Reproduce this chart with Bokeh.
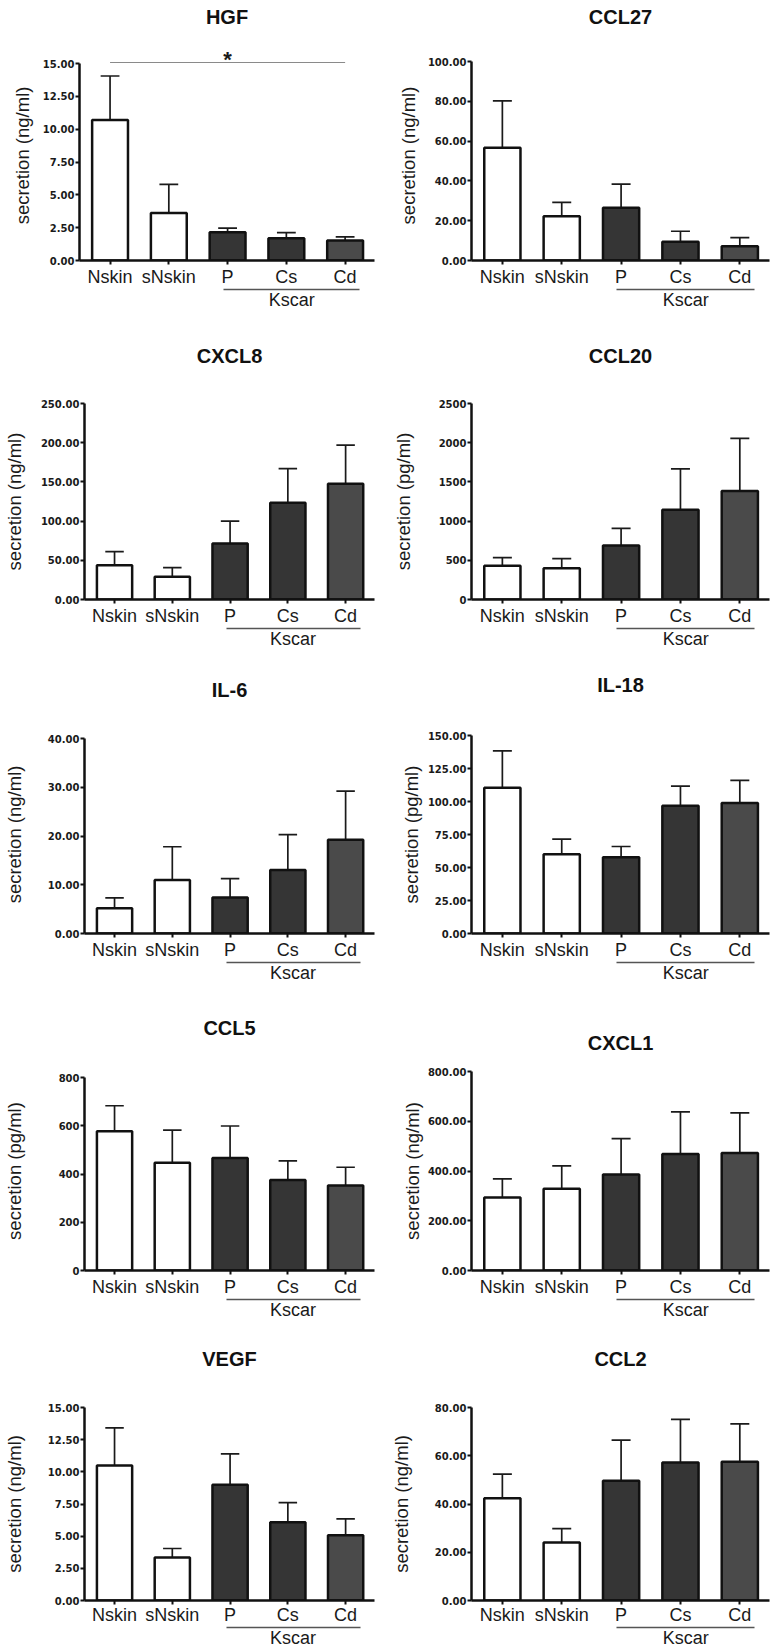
import json
from bokeh.plotting import figure
from bokeh.layouts import column, row
from bokeh.models import FixedTicker, PrintfTickFormatter, LinearAxis, CustomJSTickFormatter
from bokeh.core.properties import value
from bokeh.embed import file_html
from bokeh.resources import INLINE

# ---------------- data ----------------
categories = ["Nskin", "sNskin", "P", "Cs", "Cd"]
group_label = "Kscar"
group_members = ["P", "Cs", "Cd"]
bar_colors = ["#ffffff", "#ffffff", "#353535", "#353535", "#4a4a4a"]

panel_titles = ["HGF", "CCL27", "CXCL8", "CCL20", "IL-6", "IL-18", "CCL5", "CXCL1", "VEGF", "CCL2"]
panel_units = ["ng/ml", "ng/ml", "ng/ml", "pg/ml", "ng/ml", "pg/ml", "pg/ml", "ng/ml", "ng/ml", "ng/ml"]

hgf_mean = [10.70, 3.62, 2.15, 1.70, 1.52]
hgf_err = [3.35, 2.18, 0.31, 0.42, 0.28]
ccl27_mean = [56.6, 22.2, 26.5, 9.4, 7.2]
ccl27_err = [23.6, 7.0, 11.9, 5.3, 4.3]
cxcl8_mean = [43.8, 29.0, 71.4, 123.5, 147.7]
cxcl8_err = [17.2, 11.7, 28.6, 43.5, 49.3]
ccl20_mean = [430, 400, 688, 1146, 1383]
ccl20_err = [105, 122, 220, 520, 673]
il6_mean = [5.2, 11.0, 7.4, 13.05, 19.25]
il6_err = [2.1, 6.8, 3.85, 7.25, 9.95]
il18_mean = [110.5, 60.1, 57.8, 96.7, 98.8]
il18_err = [27.9, 11.4, 8.1, 15.0, 17.2]
ccl5_mean = [577, 447, 466, 375, 352]
ccl5_err = [106, 135, 133, 79, 76]
cxcl1_mean = [293, 329, 386, 468, 472]
cxcl1_err = [75, 92, 144, 170, 162]
vegf_mean = [10.50, 3.34, 9.00, 6.09, 5.07]
vegf_err = [2.92, 0.70, 2.40, 1.51, 1.28]
ccl2_mean = [42.4, 24.0, 49.6, 57.2, 57.5]
ccl2_err = [10.0, 5.8, 16.9, 17.9, 15.7]

hgf_ticks = [0, 2.5, 5, 7.5, 10, 12.5, 15]
ccl27_ticks = [0, 20, 40, 60, 80, 100]
cxcl8_ticks = [0, 50, 100, 150, 200, 250]
ccl20_ticks = [0, 500, 1000, 1500, 2000, 2500]
il6_ticks = [0, 10, 20, 30, 40]
il18_ticks = [0, 25, 50, 75, 100, 125, 150]
ccl5_ticks = [0, 200, 400, 600, 800]
cxcl1_ticks = [0, 200, 400, 600, 800]
vegf_ticks = [0, 2.5, 5, 7.5, 10, 12.5, 15]
ccl2_ticks = [0, 20, 40, 60, 80]

y_formats = ["%.2f", "%.2f", "%.2f", "%d", "%.2f", "%.2f", "%d", "%.2f", "%.2f", "%.2f"]

sig_panel = "HGF"
sig_from = "Nskin"
sig_to = "Cd"
sig_text = "*"

means = [hgf_mean, ccl27_mean, cxcl8_mean, ccl20_mean, il6_mean,
         il18_mean, ccl5_mean, cxcl1_mean, vegf_mean, ccl2_mean]
errs = [hgf_err, ccl27_err, cxcl8_err, ccl20_err, il6_err,
        il18_err, ccl5_err, cxcl1_err, vegf_err, ccl2_err]
y_ticks = [hgf_ticks, ccl27_ticks, cxcl8_ticks, ccl20_ticks, il6_ticks,
           il18_ticks, ccl5_ticks, cxcl1_ticks, vegf_ticks, ccl2_ticks]

# ---------------- layout (page pixels) ----------------
# per panel: top_tick_y, title_baseline_y, ylabel_center_x
panel_spec = [
    (63, 22.7, 25), (61, 19.5, 411),
    (403, 362, 11), (403, 362, 406),
    (738, 696, 11), (735, 691, 414),
    (1077, 1034, 11), (1071, 1049, 415),
    (1407, 1365, 10), (1407, 1365, 404),
]
row_top = [0, 320, 655, 990, 1325]
row_bot = [320, 655, 990, 1325, 1651]
row_frame_top = [50, 403, 735, 1071, 1407]
row_zero = [260, 599.5, 933, 1270, 1600]
col_left = [0, 387]
col_right = [387, 774]
col_axis = [79, 471]
col_frame_right = [374, 769]

FONT = "Liberation Sans"
TICK_FONT = "DejaVu Sans"
TXT = "#1a1a1a"
TITLE_PX = 20
TICK_PX = 10
CAT_PX = 18
YLAB_PX = 18.5
X_RANGE = (-0.52, 4.5)


def tick_width(s):
    return sum(0.38 * TICK_PX if ch == "." else 0.696 * TICK_PX for ch in s)


def build(i):
    r, c = divmod(i, 2)
    tt_y, tb_y, lab_cx = panel_spec[i]
    ax_x, fr_x = col_axis[c], col_frame_right[c]
    frame_top, z_y = row_frame_top[r], row_zero[r]
    ticks = y_ticks[i]
    top_val = ticks[-1]
    has_sig = panel_titles[i] == sig_panel
    y_end = top_val * (z_y - frame_top) / (z_y - tt_y)

    W = col_right[c] - col_left[c]
    H = row_bot[r] - row_top[r]
    mbl = int(round(ax_x - col_left[c]))
    fw = int(round(fr_x - ax_x))
    mbr = W - mbl - fw
    mbt = int(round(frame_top - row_top[r]))
    fh = int(round(z_y - frame_top))
    mbb = H - mbt - fh
    last_row = r == len(row_top) - 1

    p = figure(width=W, height=H, x_range=X_RANGE, y_range=(0, y_end),
               output_backend="svg", toolbar_location=None, tools="",
               min_border_left=mbl, min_border_right=mbr,
               min_border_top=mbt, min_border_bottom=mbb,
               background_fill_color="white", border_fill_color="white",
               outline_line_color=None)
    p.title = None
    p.xgrid.visible = False
    p.ygrid.visible = False
    xa = p.xaxis[0]
    ya = p.yaxis[0]

    # panel title as the label of a bare axis above the frame
    so = frame_top - (tb_y + 0.212 * TITLE_PX)
    so = max(0, min(so, mbt - 27))
    ta = LinearAxis(ticker=FixedTicker(ticks=[]), axis_label=panel_titles[i])
    ta.axis_line_color = None
    ta.major_tick_out = 0
    ta.major_tick_in = 0
    ta.minor_tick_out = 0
    ta.minor_tick_in = 0
    ta.major_label_standoff = 0
    ta.axis_label_standoff = int(round(so))
    ta.axis_label_text_font = FONT
    ta.axis_label_text_font_size = f"{TITLE_PX}px"
    ta.axis_label_text_font_style = "bold"
    ta.axis_label_text_color = "#111111"
    p.add_layout(ta, "above")

    xs = list(range(len(categories)))
    m = means[i]
    e = errs[i]
    tops = [a + b for a, b in zip(m, e)]

    p.segment(x0=xs, y0=m, x1=xs, y1=tops, line_color=TXT, line_width=1.7)
    p.segment(x0=[x - 0.16 for x in xs], y0=tops, x1=[x + 0.16 for x in xs], y1=tops,
              line_color=TXT, line_width=1.7)
    p.vbar(x=xs, top=m, bottom=0, width=0.61, fill_color=bar_colors,
           line_color="#111111", line_width=2.5)

    if has_sig:
        i0 = categories.index(sig_from)
        i1 = categories.index(sig_to)
        ys = top_val * 1.005
        p.segment(x0=[i0], y0=[ys], x1=[i1], y1=[ys], line_color="#8a8a8a", line_width=1.2)
        p.text(x=[(i0 + i1) / 2], y=[ys], text=[sig_text], text_align="center",
               text_baseline="alphabetic", y_offset=-3, text_font=value(FONT),
               text_font_size="22px", text_font_style="bold", text_color=TXT)

    # y axis
    ya.ticker = FixedTicker(ticks=ticks)
    ya.formatter = PrintfTickFormatter(format=y_formats[i])
    if y_end > top_val:
        ya.bounds = (0, top_val)
    ya.axis_line_width = 2.5
    ya.axis_line_color = "#111111"
    ya.major_tick_out = 4
    ya.major_tick_in = 0
    ya.major_tick_line_width = 2
    ya.major_tick_line_color = "#111111"
    ya.minor_tick_out = 0
    ya.minor_tick_in = 0
    ya.major_label_standoff = 1
    ya.major_label_text_font = TICK_FONT
    ya.major_label_text_font_size = f"{TICK_PX}px"
    ya.major_label_text_font_style = "bold"
    ya.major_label_text_color = TXT
    ya.axis_label = f"secretion ({panel_units[i]})"
    ya.axis_label_text_font = FONT
    ya.axis_label_text_font_size = f"{YLAB_PX}px"
    ya.axis_label_text_font_style = "normal"
    ya.axis_label_text_color = TXT
    wmax = max(tick_width(y_formats[i] % t) for t in ticks)
    lab_cx = max(lab_cx, col_left[c] + 12)
    dist = ax_x - lab_cx
    ya.axis_label_standoff = int(round(max(0, dist - 4 - 1 - wmax - 0.57 * YLAB_PX)))

    # x axis (categories)
    xa.ticker = FixedTicker(ticks=xs)
    xa.major_label_overrides = {x: name for x, name in zip(xs, categories)}
    xa.axis_line_width = 2.5
    xa.axis_line_color = "#111111"
    xa.major_tick_out = 4
    xa.major_tick_in = 0
    xa.major_tick_line_width = 2
    xa.major_tick_line_color = "#111111"
    xa.minor_tick_out = 0
    xa.minor_tick_in = 0
    xa.major_label_standoff = 0 if last_row else 2
    xa.major_label_text_font = FONT
    xa.major_label_text_font_size = f"{CAT_PX}px"
    xa.major_label_text_color = TXT

    # group bracket axis
    gi = [categories.index(g) for g in group_members]
    b0 = min(gi) - 0.07
    b1 = max(gi) + 0.25
    ga = LinearAxis(ticker=FixedTicker(ticks=[(b0 + b1) / 2]),
                    formatter=CustomJSTickFormatter(code="return " + json.dumps(group_label) + ";"),
                    bounds=(b0, b1))
    ga.axis_line_color = "#555555"
    ga.axis_line_width = 1.5
    ga.major_tick_out = 0
    ga.major_tick_in = 0
    ga.minor_tick_out = 0
    ga.minor_tick_in = 0
    ga.major_label_standoff = 0
    ga.major_label_text_font = FONT
    ga.major_label_text_font_size = f"{CAT_PX}px"
    ga.major_label_text_color = TXT
    p.add_layout(ga, "below")
    return p


figs = [build(i) for i in range(len(panel_titles))]
layout = column(*[row(figs[2 * k], figs[2 * k + 1]) for k in range(len(figs) // 2)])
open("out.html", "w").write(file_html(layout, INLINE))
